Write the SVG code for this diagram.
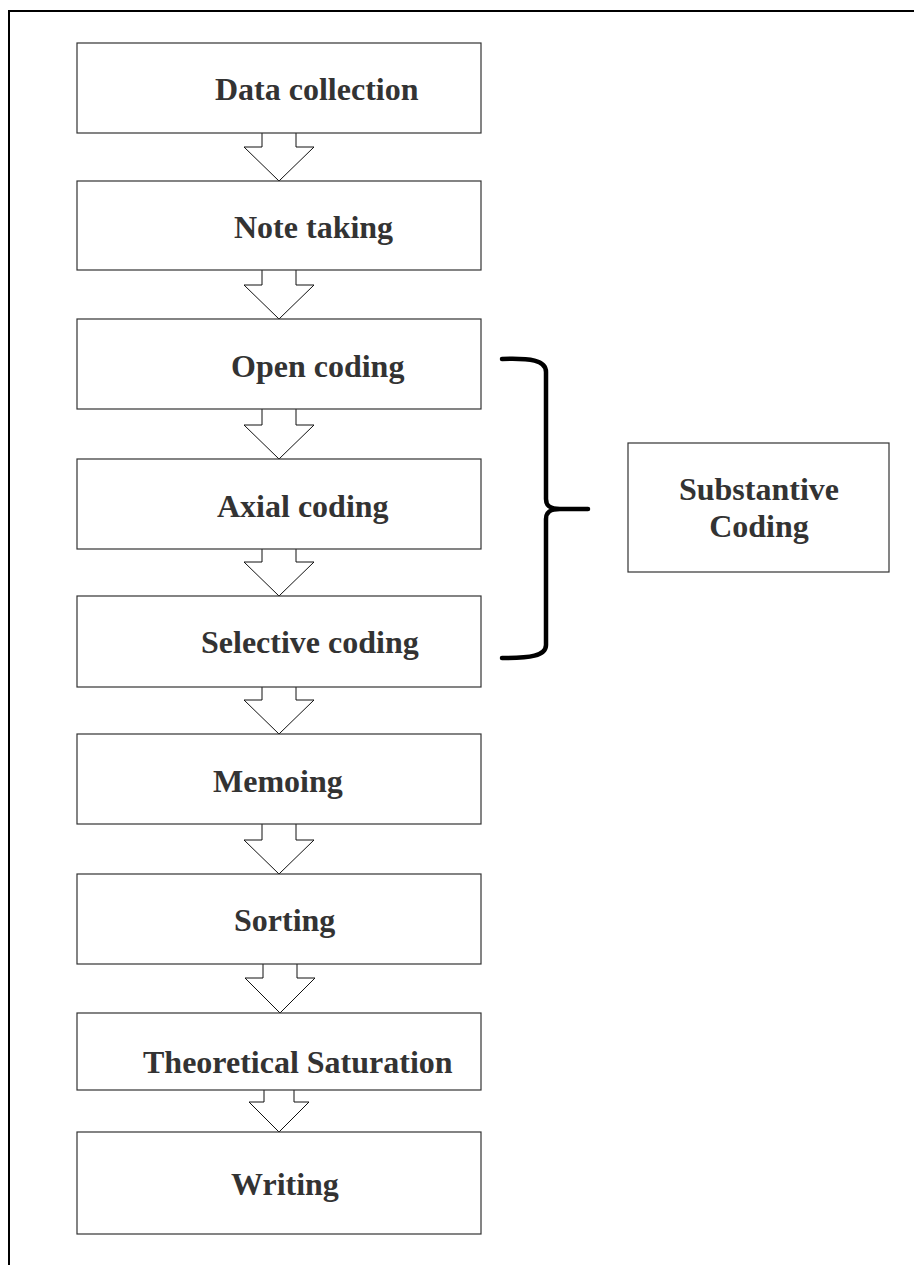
<svg xmlns="http://www.w3.org/2000/svg" width="914" height="1265" viewBox="0 0 914 1265">
<style>
.box{fill:#fff;stroke:#333;stroke-width:1.2}
.arr{fill:#fff;stroke:#111;stroke-width:1}
.t{font-family:"Liberation Serif","Times New Roman",serif;font-weight:bold;font-size:32px;fill:#333}
.brace{fill:none;stroke:#000;stroke-width:4.5;stroke-linecap:round;stroke-linejoin:round}
</style>
<rect width="914" height="1265" fill="#fff"/>
<path d="M9,1265 V11 H914" fill="none" stroke="#000" stroke-width="2"/>
<g id="connectors">
<path class="arr" d="M262,133 V147 H244 L279,181 L314,147 H296 V133"/>
<path class="arr" d="M262,270 V285 H244 L279,319 L314,285 H296 V270"/>
<path class="arr" d="M262,409 V425 H244 L279,459 L314,425 H296 V409"/>
<path class="arr" d="M262,549 V562 H244 L279,596 L314,562 H296 V549"/>
<path class="arr" d="M262,687 V700 H244 L279,734 L314,700 H296 V687"/>
<path class="arr" d="M262,824 V840 H244 L279,874 L314,840 H296 V824"/>
<path class="arr" d="M263,964 V978 H245 L280,1013 L315,978 H297 V964"/>
<path class="arr" d="M264,1090 V1102 H249 L279,1132 L309,1102 H294 V1090"/>
<path class="brace" d="M502,359 C530,358 546,360 546,372 L546,499 C546,506 550,509 560,509 L588,509 M560,509 C550,509 546,512 546,519 L546,645 C546,656 530,658 502,658"/>
</g>
<g id="n1"><rect class="box" x="77" y="43" width="404" height="90"/><text class="t" x="215" y="100">Data collection</text></g>
<g id="n2"><rect class="box" x="77" y="181" width="404" height="89"/><text class="t" x="234" y="238">Note taking</text></g>
<g id="n3"><rect class="box" x="77" y="319" width="404" height="90"/><text class="t" x="231" y="377">Open coding</text></g>
<g id="n4"><rect class="box" x="77" y="459" width="404" height="90"/><text class="t" x="217" y="517">Axial coding</text></g>
<g id="n5"><rect class="box" x="77" y="596" width="404" height="91"/><text class="t" x="201" y="653">Selective coding</text></g>
<g id="n6"><rect class="box" x="77" y="734" width="404" height="90"/><text class="t" x="213" y="792">Memoing</text></g>
<g id="n7"><rect class="box" x="77" y="874" width="404" height="90"/><text class="t" x="234" y="931">Sorting</text></g>
<g id="n8"><rect class="box" x="77" y="1013" width="404" height="77"/><text class="t" x="143" y="1073">Theoretical Saturation</text></g>
<g id="n9"><rect class="box" x="77" y="1132" width="404" height="102"/><text class="t" x="231" y="1195">Writing</text></g>
<g id="n10"><rect class="box" x="628" y="443" width="261" height="129"/><text class="t" x="759" y="500" text-anchor="middle">Substantive</text><text class="t" x="759" y="537" text-anchor="middle">Coding</text></g>
</svg>
